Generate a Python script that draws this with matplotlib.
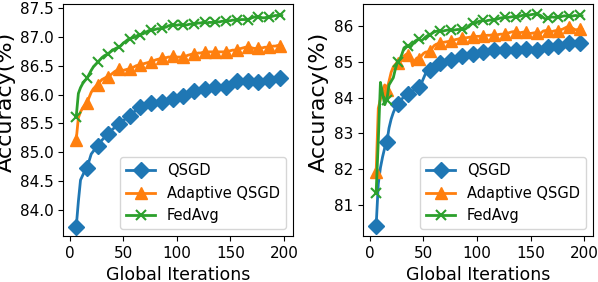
import numpy as np
import matplotlib
matplotlib.use('Agg')
import matplotlib.pyplot as plt

# iterations, sampled every 2 (markers every 10)
iters = np.arange(6, 200, 2)

# left panel
left_qsgd = [
    83.71, 84.15, 84.52, 84.60, 84.68,
    84.73, 84.85, 84.97, 85.02, 85.07,
    85.11, 85.16, 85.21, 85.25, 85.28,
    85.31, 85.36, 85.40, 85.43, 85.46,
    85.49, 85.52, 85.55, 85.58, 85.61,
    85.63, 85.66, 85.70, 85.73, 85.76,
    85.78, 85.79, 85.81, 85.83, 85.84,
    85.85, 85.86, 85.86, 85.87, 85.87,
    85.88, 85.89, 85.90, 85.91, 85.92,
    85.93, 85.94, 85.95, 85.96, 85.97,
    85.98, 86.00, 86.02, 86.04, 86.06,
    86.07, 86.08, 86.08, 86.09, 86.10,
    86.10, 86.11, 86.12, 86.13, 86.13,
    86.14, 86.14, 86.14, 86.14, 86.14,
    86.14, 86.16, 86.18, 86.20, 86.22,
    86.23, 86.23, 86.23, 86.23, 86.23,
    86.23, 86.23, 86.22, 86.22, 86.22,
    86.22, 86.23, 86.23, 86.24, 86.24,
    86.25, 86.26, 86.27, 86.27, 86.28,
    86.29, 86.29,
]
left_adaptive = [
    85.22, 85.60, 85.70, 85.77, 85.82,
    85.85, 85.95, 86.04, 86.10, 86.14,
    86.17, 86.22, 86.26, 86.28, 86.30,
    86.31, 86.34, 86.37, 86.40, 86.42,
    86.44, 86.43, 86.42, 86.43, 86.44,
    86.44, 86.46, 86.48, 86.50, 86.51,
    86.52, 86.53, 86.54, 86.55, 86.56,
    86.57, 86.58, 86.60, 86.61, 86.62,
    86.63, 86.64, 86.64, 86.65, 86.65,
    86.66, 86.66, 86.65, 86.65, 86.65,
    86.65, 86.66, 86.68, 86.69, 86.70,
    86.71, 86.71, 86.72, 86.72, 86.73,
    86.73, 86.73, 86.74, 86.74, 86.74,
    86.74, 86.74, 86.74, 86.74, 86.74,
    86.74, 86.75, 86.76, 86.77, 86.77,
    86.78, 86.79, 86.80, 86.81, 86.82,
    86.82, 86.81, 86.81, 86.80, 86.80,
    86.80, 86.81, 86.81, 86.82, 86.82,
    86.83, 86.83, 86.84, 86.84, 86.85,
    86.85, 86.84,
]
left_fedavg = [
    85.62, 86.02, 86.12, 86.19, 86.24,
    86.28, 86.35, 86.42, 86.48, 86.52,
    86.56, 86.60, 86.64, 86.67, 86.69,
    86.71, 86.74, 86.77, 86.79, 86.81,
    86.82, 86.85, 86.89, 86.92, 86.95,
    86.97, 86.98, 86.99, 87.01, 87.03,
    87.04, 87.05, 87.07, 87.09, 87.11,
    87.12, 87.12, 87.13, 87.14, 87.14,
    87.15, 87.16, 87.17, 87.19, 87.20,
    87.21, 87.21, 87.20, 87.21, 87.21,
    87.21, 87.20, 87.21, 87.22, 87.22,
    87.22, 87.23, 87.24, 87.24, 87.25,
    87.25, 87.24, 87.25, 87.25, 87.25,
    87.25, 87.26, 87.26, 87.27, 87.27,
    87.27, 87.28, 87.28, 87.29, 87.29,
    87.29, 87.29, 87.30, 87.30, 87.30,
    87.30, 87.31, 87.33, 87.34, 87.35,
    87.35, 87.34, 87.33, 87.33, 87.34,
    87.34, 87.35, 87.36, 87.37, 87.37,
    87.38, 87.37,
]

# right panel
right_qsgd = [
    80.43, 81.60, 82.05, 82.35, 82.60,
    82.76, 83.15, 83.40, 83.58, 83.72,
    83.83, 83.90, 83.96, 84.02, 84.06,
    84.10, 84.14, 84.18, 84.22, 84.26,
    84.29, 84.38, 84.52, 84.66, 84.73,
    84.77, 84.82, 84.87, 84.91, 84.94,
    84.96, 84.98, 84.99, 85.01, 85.02,
    85.03, 85.05, 85.08, 85.10, 85.12,
    85.14, 85.16, 85.17, 85.18, 85.20,
    85.21, 85.22, 85.23, 85.24, 85.25,
    85.26, 85.27, 85.28, 85.29, 85.30,
    85.31, 85.31, 85.32, 85.32, 85.33,
    85.33, 85.33, 85.33, 85.33, 85.33,
    85.33, 85.33, 85.34, 85.34, 85.34,
    85.34, 85.34, 85.34, 85.33, 85.33,
    85.33, 85.34, 85.35, 85.37, 85.38,
    85.39, 85.40, 85.41, 85.42, 85.43,
    85.44, 85.46, 85.48, 85.49, 85.50,
    85.51, 85.51, 85.51, 85.51, 85.51,
    85.51, 85.50,
]
right_adaptive = [
    81.93, 83.70, 83.95, 84.20, 84.35,
    84.22, 84.45, 84.70, 84.85, 84.92,
    84.96, 84.98, 85.05, 85.15, 85.20,
    85.19, 85.12, 84.88, 85.02, 85.10,
    85.07, 85.15, 85.22, 85.26, 85.27,
    85.28, 85.36, 85.44, 85.48, 85.50,
    85.51, 85.53, 85.54, 85.55, 85.56,
    85.57, 85.59, 85.61, 85.62, 85.64,
    85.65, 85.66, 85.66, 85.67, 85.68,
    85.68, 85.69, 85.70, 85.70, 85.71,
    85.71, 85.72, 85.73, 85.73, 85.74,
    85.74, 85.73, 85.75, 85.76, 85.76,
    85.76, 85.78, 85.80, 85.82, 85.83,
    85.83, 85.82, 85.80, 85.81, 85.82,
    85.81, 85.79, 85.78, 85.79, 85.80,
    85.79, 85.74, 85.80, 85.85, 85.86,
    85.86, 85.84, 85.83, 85.85, 85.86,
    85.86, 85.88, 85.90, 85.93, 85.96,
    85.97, 85.95, 85.91, 85.88, 85.89,
    85.90, 85.89,
]
right_fedavg = [
    81.35, 82.80, 84.42, 84.10, 83.80,
    83.94, 84.35, 84.45, 84.55, 84.80,
    85.00, 85.05, 85.20, 85.38, 85.42,
    85.44, 85.40, 85.48, 85.56, 85.60,
    85.62, 85.58, 85.62, 85.68, 85.72,
    85.74, 85.78, 85.82, 85.84, 85.85,
    85.85, 85.84, 85.86, 85.87, 85.88,
    85.88, 85.87, 85.88, 85.89, 85.89,
    85.90, 85.88, 85.92, 85.98, 86.03,
    86.06, 86.04, 86.09, 86.12, 86.13,
    86.14, 86.12, 86.14, 86.15, 86.16,
    86.16, 86.17, 86.19, 86.21, 86.22,
    86.23, 86.22, 86.23, 86.24, 86.25,
    86.25, 86.24, 86.26, 86.28, 86.29,
    86.30, 86.28, 86.30, 86.31, 86.32,
    86.32, 86.30, 86.27, 86.22, 86.18,
    86.20, 86.22, 86.24, 86.23, 86.24,
    86.25, 86.24, 86.26, 86.27, 86.26,
    86.27, 86.25, 86.27, 86.28, 86.27,
    86.28, 86.27,
]

labels = ['QSGD', 'Adaptive QSGD', 'FedAvg']
markers = ['D', '^', 'x']
colors = ['#1f77b4', '#ff7f0e', '#2ca02c']
msizes = [8, 8, 6.5]

fig = plt.figure(figsize=(5.98, 2.82), dpi=100)
ax1 = fig.add_axes([0.106, 0.163, 0.384, 0.823])
ax2 = fig.add_axes([0.6075, 0.163, 0.3845, 0.823])

panels = [(ax1, [left_qsgd, left_adaptive, left_fedavg], -0.205),
          (ax2, [right_qsgd, right_adaptive, right_fedavg], -0.15)]

for ax, series, lx in panels:
    for vals, lab, mk, c, ms in zip(series, labels, markers, colors, msizes):
        ax.plot(iters, vals, color=c, marker=mk, markevery=5, markersize=ms,
                linewidth=2, label=lab, markeredgewidth=1.5 if mk == 'x' else 1)
    ax.set_xlim(-6, 208.5)
    ax.set_xticks([0, 50, 100, 150, 200])
    ax.tick_params(labelsize=11)
    ax.set_xlabel('Global Iterations', fontsize=12.5)
    ax.set_ylabel('Accuracy(%)', fontsize=16)
    ax.yaxis.set_label_coords(lx, 0.58)
    ax.legend(loc='lower right', fontsize=10.5)

ax1.set_yticks([84.0, 84.5, 85.0, 85.5, 86.0, 86.5, 87.0, 87.5])
ax1.set_ylim(83.55, 87.57)
ax2.set_yticks([81, 82, 83, 84, 85, 86])
ax2.set_ylim(80.15, 86.6)

fig.savefig('out.png', dpi=100)
